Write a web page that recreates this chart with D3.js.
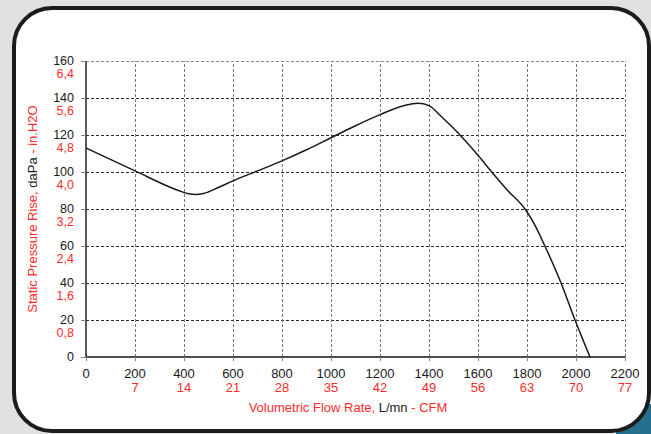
<!DOCTYPE html>
<html>
<head>
<meta charset="utf-8">
<script src="https://cdn.jsdelivr.net/npm/d3@7/dist/d3.min.js"></script>
<style>
  html, body { margin: 0; padding: 0; background: #e1e1e1; }
  svg { display: block; }
  text { font-family: "Liberation Sans", Arial, sans-serif; }
</style>
</head>
<body>
<svg id="chart" width="651" height="434"></svg>
<script>
// Fan performance curve: static pressure vs. volumetric flow
const flowLpm      = [0, 200, 380, 420, 445, 480, 540, 600, 700, 800, 900, 1000, 1100, 1200, 1300, 1355, 1400, 1450, 1500, 1600, 1656, 1720, 1792, 1830, 1873, 1939, 1996, 2057];
const pressureDaPa = [113, 100.6, 89.9, 88.2, 87.8, 88.4, 91.6, 95.2, 100.6, 106, 112, 118.5, 125, 131, 136, 137.2, 135.9, 130, 123.6, 109, 100, 90.2, 80, 71.8, 60, 40, 20, 0];

const xTicks      = [0, 200, 400, 600, 800, 1000, 1200, 1400, 1600, 1800, 2000, 2200];
const cfmLabels   = ["", "7", "14", "21", "28", "35", "42", "49", "56", "63", "70", "77"];
const yTicks      = [0, 20, 40, 60, 80, 100, 120, 140, 160];
const inH2OLabels = ["", "0,8", "1,6", "2,4", "3,2", "4,0", "4,8", "5,6", "6,4"];

const RED = "#ff2b2b";
const svg = d3.select("#chart");

// Card background with teal accent in the lower-right corner
svg.append("rect").attr("x", 616).attr("y", 404).attr("width", 70).attr("height", 50)
  .attr("rx", 22).attr("fill", "#23708f");
svg.append("rect").attr("x", 14).attr("y", 8).attr("width", 635).attr("height", 423)
  .attr("rx", 38).attr("ry", 38)
  .attr("fill", "#fff").attr("stroke", "#1c1c1c").attr("stroke-width", 4);

const x = d3.scaleLinear().domain([0, 2200]).range([86, 625]);
const y = d3.scaleLinear().domain([0, 160]).range([357, 61]);

const g = svg.append("g");

// Horizontal grid
g.selectAll("line.hgrid").data(yTicks.filter(v => v > 0)).join("line")
  .attr("class", "hgrid")
  .attr("x1", x(0)).attr("x2", x(2200))
  .attr("y1", d => y(d)).attr("y2", d => y(d))
  .attr("stroke", d => d === 160 ? "#8a8a8a" : "#2a2a2a")
  .attr("stroke-width", 1)
  .attr("stroke-dasharray", "3,2")
  .attr("shape-rendering", "crispEdges");

// Vertical grid
g.selectAll("line.vgrid").data(xTicks.filter(v => v > 0)).join("line")
  .attr("class", "vgrid")
  .attr("x1", d => x(d)).attr("x2", d => x(d))
  .attr("y1", y(0)).attr("y2", y(160))
  .attr("stroke", "#7a7a7a")
  .attr("stroke-width", 1)
  .attr("stroke-dasharray", "3,2")
  .attr("shape-rendering", "crispEdges");

// Axes
const xAxis = d3.axisBottom(x).tickValues(xTicks).tickSize(4).tickFormat("");
const yAxis = d3.axisLeft(y).tickValues(yTicks).tickSize(5).tickFormat("");
const gx = g.append("g").attr("transform", `translate(0,${y(0)})`).call(xAxis);
const gy = g.append("g").attr("transform", `translate(${x(0)},0)`).call(yAxis);
gx.select(".domain").attr("stroke", "#111").attr("stroke-width", 1.4).attr("d", `M${x(0)},0H${x(2200)}`);
gy.select(".domain").attr("stroke", "#111").attr("stroke-width", 1.4).attr("d", `M0,${y(0)}V${y(160)}`);
gx.selectAll(".tick line").attr("stroke", "#888");
gy.selectAll(".tick line").attr("stroke", "#888");

// X tick labels (L/mn and CFM)
g.selectAll("text.xl").data(xTicks).join("text")
  .attr("class", "xl")
  .attr("x", d => x(d)).attr("y", 378)
  .attr("text-anchor", "middle").attr("font-size", 13).attr("fill", "#1a1a1a")
  .text(d => d);
g.selectAll("text.xc").data(xTicks).join("text")
  .attr("class", "xc")
  .attr("x", d => x(d)).attr("y", 392)
  .attr("text-anchor", "middle").attr("font-size", 13).attr("fill", RED)
  .text((d, i) => cfmLabels[i]);

// Y tick labels (daPa and in.H2O)
g.selectAll("text.yl").data(yTicks).join("text")
  .attr("class", "yl")
  .attr("x", 74).attr("y", d => y(d) + 4)
  .attr("text-anchor", "end").attr("font-size", 12.5).attr("fill", "#1a1a1a")
  .text(d => d);
g.selectAll("text.yc").data(yTicks).join("text")
  .attr("class", "yc")
  .attr("x", 74).attr("y", d => y(d) + 16.5)
  .attr("text-anchor", "end").attr("font-size", 12.5).attr("fill", RED)
  .text((d, i) => inH2OLabels[i]);

// Axis titles
const xt = svg.append("text").attr("x", 348).attr("y", 412)
  .attr("text-anchor", "middle").attr("font-size", 13).attr("fill", RED);
xt.append("tspan").text("Volumetric Flow Rate, ");
xt.append("tspan").attr("fill", "#1a1a1a").text("L/mn");
xt.append("tspan").text(" - CFM");

const yt = svg.append("text").attr("transform", "translate(37,209) rotate(-90)")
  .attr("text-anchor", "middle").attr("font-size", 13).attr("fill", RED);
yt.append("tspan").text("Static Pressure Rise, ");
yt.append("tspan").attr("fill", "#1a1a1a").text("daPa");
yt.append("tspan").text(" - in.H2O");

// Performance curve
const line = d3.line()
  .x((d, i) => x(flowLpm[i]))
  .y(d => y(d))
  .curve(d3.curveMonotoneX);
g.append("path").datum(pressureDaPa)
  .attr("d", line)
  .attr("fill", "none")
  .attr("stroke", "#1a1a1a")
  .attr("stroke-width", 1.5);
</script>
</body>
</html>
